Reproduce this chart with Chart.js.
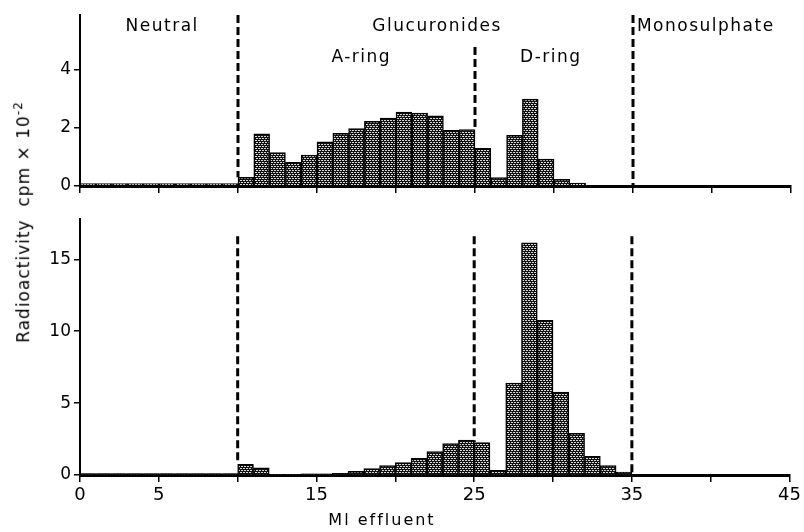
<!DOCTYPE html>
<html>
<head>
<meta charset="utf-8">
<script src="https://cdn.jsdelivr.net/npm/chart.js@4.4.1/dist/chart.umd.min.js"></script>
<style>
html, body { margin: 0; padding: 0; background: #fff; }
#wrap { position: relative; width: 804px; height: 532px; font-family: "DejaVu Sans", sans-serif; color: #000; }
#chartTop { position: absolute; left: 0; top: 0; }
#chartBot { position: absolute; left: 0; top: 200px; }
#ytitle { position: absolute; left: 22px; top: 222px; transform: translate(-50%, -50%) rotate(-90deg);
          white-space: nowrap; font-size: 17px; letter-spacing: 1px; }
#ytitle sup { font-size: 12px; }
#xtitle { position: absolute; left: 382px; top: 510px; transform: translateX(-50%);
          white-space: nowrap; font-size: 16px; letter-spacing: 2px; }
</style>
</head>
<body>
<div id="wrap">
  <canvas id="chartTop" width="804" height="200"></canvas>
  <canvas id="chartBot" width="804" height="332"></canvas>
  <div id="ytitle">Radioactivity&nbsp;&nbsp;cpm × 10<sup>-2</sup></div>
  <div id="xtitle">Ml effluent</div>
</div>
<script>
// fraction centres (ml), 1 ml fractions
var fractionMl = [0.5, 1.5, 2.5, 3.5, 4.5, 5.5, 6.5, 7.5, 8.5, 9.5,
                  10.5, 11.5, 12.5, 13.5, 14.5, 15.5, 16.5, 17.5, 18.5, 19.5,
                  20.5, 21.5, 22.5, 23.5, 24.5, 25.5, 26.5, 27.5, 28.5, 29.5,
                  30.5, 31.5, 32.5, 33.5, 34.5, 35.5, 36.5, 37.5, 38.5, 39.5,
                  40.5, 41.5, 42.5, 43.5, 44.5];

var topCounts = [0.08, 0.08, 0.08, 0.08, 0.08, 0.08, 0.08, 0.08, 0.08, 0.08,
                 0.3, 1.8, 1.15, 0.82, 1.07, 1.52, 1.82, 1.98, 2.23, 2.34,
                 2.55, 2.52, 2.42, 1.92, 1.95, 1.3, 0.29, 1.75, 3.0, 0.93,
                 0.23, 0.1, 0, 0, 0, 0, 0, 0, 0, 0,
                 0, 0, 0, 0, 0];

var botCounts = [0.1, 0.1, 0.1, 0.1, 0.1, 0.1, 0.1, 0.1, 0.1, 0.1,
                 0.75, 0.5, 0.05, 0.05, 0.08, 0.08, 0.12, 0.25, 0.45, 0.65,
                 0.86, 1.16, 1.62, 2.18, 2.42, 2.25, 0.33, 6.4, 16.15, 10.75,
                 5.76, 2.9, 1.3, 0.65, 0.2, 0, 0, 0, 0, 0,
                 0, 0, 0, 0, 0];

var xTicks = [0, 5, 10, 15, 20, 25, 30, 35, 40, 45];
var xTickLabels = [0, 5, 15, 25, 35, 45];
var yTicksTop = [0, 2, 4];
var yTicksBot = [0, 5, 10, 15];

var dividers = [10, 25, 35];
// [from, to] of each dashed divider, in cpm x 10^-2
var dividerSpanTop = [[5.9, 0.3], [4.8, 1.95], [5.9, 0]];
var dividerSpanBot = [[16.6, 0.75], [16.6, 2.3], [16.6, 0]];

var topLabels = [
    { text: 'Neutral', x: 5.2, y: 5.5, align: 'center' },
    { text: 'Glucuronides', x: 22.6, y: 5.5, align: 'center' },
    { text: 'Monosulphate', x: 35.25, y: 5.5, align: 'left' },
    { text: 'A-ring', x: 17.8, y: 4.42, align: 'center' },
    { text: 'D-ring', x: 29.8, y: 4.42, align: 'center' }
];

function dotPattern() {
    var c = document.createElement('canvas');
    c.width = 6; c.height = 4;
    var g = c.getContext('2d');
    g.fillStyle = '#111';
    g.fillRect(0, 0, 6, 4);
    g.fillStyle = '#d8d8d8';
    g.fillRect(0, 0, 2, 1);
    g.fillRect(3, 0, 2, 1);
    g.fillRect(1, 2, 2, 1);
    g.fillRect(4, 2, 2, 1);
    return g.createPattern(c, 'repeat');
}

var overlay = {
    id: 'overlay',
    afterDatasetsDraw: function (chart, args, opts) {
        var ctx = chart.ctx, xs = chart.scales.x, ys = chart.scales.y;
        ctx.save();
        ctx.strokeStyle = '#000';
        ctx.lineWidth = 3;
        ctx.setLineDash([8, 4]);
        dividers.forEach(function (d, i) {
            var px = xs.getPixelForValue(d);
            ctx.beginPath();
            ctx.moveTo(px, ys.getPixelForValue(opts.spans[i][0]));
            ctx.lineTo(px, ys.getPixelForValue(opts.spans[i][1]));
            ctx.stroke();
        });
        ctx.setLineDash([]);
        ctx.fillStyle = '#000';
        ctx.font = '17px "DejaVu Sans"';
        ctx.letterSpacing = '1.5px';
        ctx.textBaseline = 'middle';
        (opts.labels || []).forEach(function (l) {
            ctx.textAlign = l.align;
            ctx.fillText(l.text, xs.getPixelForValue(l.x), ys.getPixelForValue(l.y));
        });
        ctx.restore();
    }
};

function makePanel(canvas, counts, cfg) {
    var pts = [];
    fractionMl.forEach(function (x, i) {
        if (counts[i] > 0) pts.push({ x: x, y: counts[i] });
    });
    return new Chart(canvas.getContext('2d'), {
        type: 'bar',
        data: {
            datasets: [{
                data: pts,
                backgroundColor: dotPattern(),
                borderColor: '#000',
                borderWidth: 1.5,
                barPercentage: 1,
                categoryPercentage: 1,
            }],
        },
        options: {
            responsive: false,
            animation: false,
            layout: { padding: { top: cfg.padTop, right: 13, left: 0, bottom: 0 } },
            plugins: {
                legend: { display: false },
                tooltip: { enabled: false },
                overlay: { spans: cfg.spans, labels: cfg.labels },
            },
            scales: {
                x: {
                    type: 'linear',
                    offset: false,
                    min: 0, max: 45,
                    afterBuildTicks: function (s) { s.ticks = xTicks.map(function (v) { return { value: v }; }); },
                    afterFit: function (s) { s.height = cfg.xHeight; },
                    ticks: {
                        display: cfg.showX,
                        color: '#000',
                        padding: 3,
                        maxRotation: 0,
                        font: { family: 'DejaVu Sans', size: 18 },
                        callback: function (v) { return xTickLabels.indexOf(v) >= 0 ? String(v) : ''; },
                    },
                    grid: { display: true, offset: false, drawOnChartArea: false, drawTicks: true, tickLength: 7, color: '#000', lineWidth: 1.5 },
                    border: { display: true, color: '#000', width: 3 },
                },
                y: {
                    min: 0, max: cfg.yMax,
                    afterBuildTicks: function (s) { s.ticks = cfg.yTicks.map(function (v) { return { value: v }; }); },
                    afterFit: function (s) { s.width = 80; },
                    ticks: {
                        color: '#000',
                        padding: 3,
                        font: { family: 'DejaVu Sans', size: 17 },
                    },
                    grid: { display: true, drawOnChartArea: false, drawTicks: true, tickLength: 6, color: '#000', lineWidth: 1.5 },
                    border: { display: true, color: '#000', width: 2 },
                },
            },
        },
        plugins: [overlay],
    });
}

makePanel(document.getElementById('chartTop'), topCounts, {
    padTop: 15, xHeight: 14, showX: false, yMax: 5.9, yTicks: yTicksTop,
    spans: dividerSpanTop, labels: topLabels,
});

makePanel(document.getElementById('chartBot'), botCounts, {
    padTop: 19, xHeight: 57, showX: true, yMax: 17.8, yTicks: yTicksBot,
    spans: dividerSpanBot, labels: [],
});
</script>
</body>
</html>
